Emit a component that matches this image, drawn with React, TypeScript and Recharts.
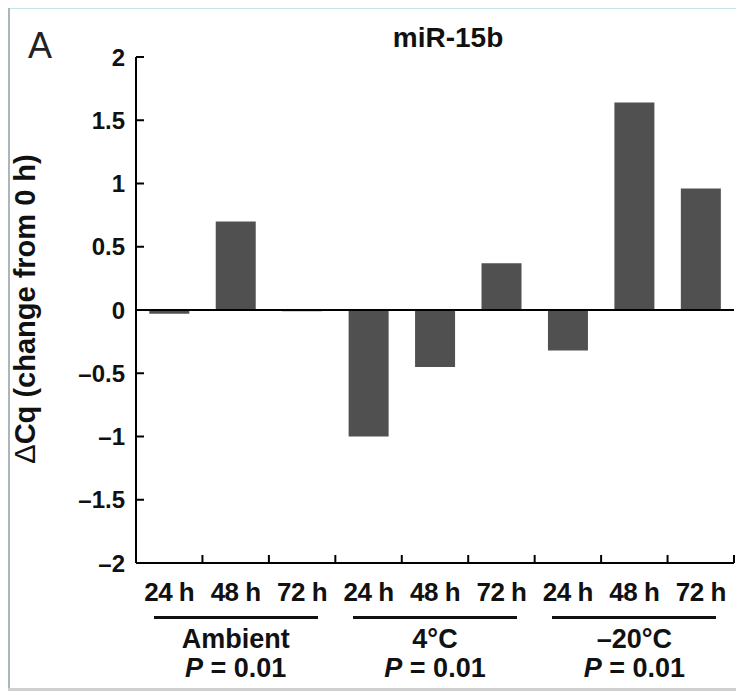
import { BarChart, Bar, XAxis, YAxis, ReferenceLine } from 'recharts';

// values (ΔCq, change from 0 h)
const timepoints = ['24 h', '48 h', '72 h', '24 h', '48 h', '72 h', '24 h', '48 h', '72 h'];
const deltaCq = [-0.03, 0.7, -0.01, -1.0, -0.45, 0.37, -0.32, 1.64, 0.96];
const groups = ['Ambient', '4°C', '–20°C'];
const pValues = ['0.01', '0.01', '0.01'];
const yTicks = [-2, -1.5, -1, -0.5, 0, 0.5, 1, 1.5, 2];

const chartData = timepoints.map((t, i) => ({ key: `${t}-${i}`, label: t, value: deltaCq[i] }));

const W = 736;
const H = 683;
const PLOT_LEFT = 128;
const PLOT_RIGHT = 726;
const PLOT_TOP = 49;
const PLOT_BOTTOM = 555;
const X_AXIS_H = 40;
const BAND = (PLOT_RIGHT - PLOT_LEFT) / timepoints.length;
const FONT = 'Arial, "Liberation Sans", Helvetica, sans-serif';

// en dash for negatives, like the figure
const fmtTick = (v: number) => (v < 0 ? `–${Math.abs(v)}` : `${v}`);

function YTick(props: any) {
    const { x, y, payload } = props;
    return (
        <g>
            <line x1={x} y1={y} x2={x + 8} y2={y} stroke="#000" strokeWidth={2} />
            <text x={x - 11} y={y} dy="0.36em" textAnchor="end" fontSize={24} fontWeight="bold" fill="#111" fontFamily={FONT}>
                {fmtTick(payload.value)}
            </text>
        </g>
    );
}

function XTick(props: any) {
    const { x, y, index } = props;
    return (
        <g>
            <line x1={x + BAND / 2} y1={y} x2={x + BAND / 2} y2={y - 8} stroke="#000" strokeWidth={2} />
            <text x={x} y={y + 38} textAnchor="middle" fontSize={26} fontWeight="bold" fill="#111" fontFamily={FONT} letterSpacing={-0.5}>
                {timepoints[index]}
            </text>
        </g>
    );
}

export default function App() {
    return (
        <div style={{ position: 'relative', width: W, height: H, fontFamily: FONT, background: '#fff' }}>
            {/* frame of the scanned figure */}
            <div style={{ position: 'absolute', left: 0, top: 0, width: W, height: 1, background: '#c6e4ec' }} />
            <div style={{ position: 'absolute', left: 0, top: 0, width: 2, height: H - 3, background: '#a9b6ba' }} />
            <div style={{ position: 'absolute', left: 0, top: H - 3, width: W, height: 3, background: '#cfcfcf' }} />

            <BarChart
                width={W}
                height={H}
                data={chartData}
                margin={{ top: PLOT_TOP, right: W - PLOT_RIGHT, left: 0, bottom: H - PLOT_BOTTOM - X_AXIS_H }}
                barCategoryGap="20%"
            >
                <XAxis
                    dataKey="key"
                    height={X_AXIS_H}
                    axisLine={{ stroke: '#000', strokeWidth: 2 }}
                    tickLine={false}
                    tickSize={0}
                    tickMargin={0}
                    interval={0}
                    tick={<XTick />}
                />
                <YAxis
                    width={PLOT_LEFT}
                    domain={[-2, 2]}
                    ticks={yTicks}
                    interval={0}
                    axisLine={{ stroke: '#000', strokeWidth: 2 }}
                    tickLine={false}
                    tickSize={0}
                    tickMargin={0}
                    tick={<YTick />}
                />
                <ReferenceLine y={0} stroke="#000" strokeWidth={2} />
                <Bar dataKey="value" fill="#505050" isAnimationActive={false} />
            </BarChart>

            <div style={{ position: 'absolute', left: 20, top: 17, fontSize: 36, lineHeight: '41px', color: '#222' }}>A</div>
            <div style={{ position: 'absolute', left: 340, width: 200, top: 14, textAlign: 'center', fontSize: 28, lineHeight: '32px', fontWeight: 'bold', color: '#111' }}>
                miR-15b
            </div>
            <div
                style={{
                    position: 'absolute',
                    left: 17,
                    top: 301,
                    transform: 'translate(-50%, -50%) rotate(-90deg)',
                    whiteSpace: 'nowrap',
                    fontSize: 29,
                    fontWeight: 'bold',
                    color: '#111',
                }}
            >
                <span style={{ fontWeight: 'normal' }}>Δ</span>Cq (change from 0 h)
            </div>

            {groups.map((g, i) => {
                const cx = PLOT_LEFT + (i * 3 + 1.5) * BAND;
                return (
                    <div key={g}>
                        <div style={{ position: 'absolute', left: cx - 82, top: 608, width: 164, height: 3, background: '#111' }} />
                        <div style={{ position: 'absolute', left: cx - 100, width: 200, top: 616, lineHeight: '30px', textAlign: 'center', fontSize: 27, fontWeight: 'bold', color: '#111' }}>
                            {g}
                        </div>
                        <div style={{ position: 'absolute', left: cx - 100, width: 200, top: 645, lineHeight: '30px', textAlign: 'center', fontSize: 27, fontWeight: 'bold', color: '#111' }}>
                            <i>P</i> = {pValues[i]}
                        </div>
                    </div>
                );
            })}
        </div>
    );
}
